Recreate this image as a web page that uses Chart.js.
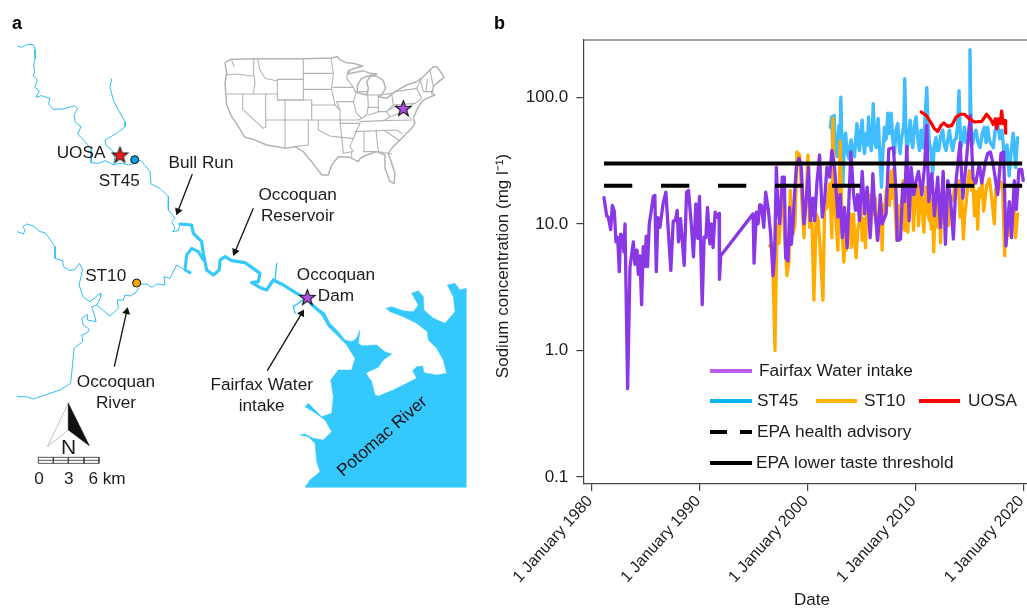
<!DOCTYPE html>
<html><head><meta charset="utf-8">
<style>
html,body{margin:0;padding:0;background:#fff;width:1027px;height:609px;overflow:hidden}
canvas{position:absolute;top:0;display:block}
#map{left:0}
#series{left:480px}
</style>
<script src="https://cdn.jsdelivr.net/npm/chart.js@4"></script>
</head><body>
<canvas id="map" width="480" height="500"></canvas>
<canvas id="series" width="570" height="609"></canvas>
<script>
// ---------- Panel b data: sodium concentration (mg/l) by decimal year ----------
const fairfaxYears=[1981.11,1981.36,1981.51,1981.73,1981.88,1982.07,1982.22,1982.38,1982.53,1982.65,1982.81,1982.96,1983.06,1983.30,1983.52,1983.83,1983.98,1984.17,1984.29,1984.44,1984.60,1984.75,1984.88,1985.03,1985.15,1985.31,1985.46,1985.68,1985.83,1985.96,1986.11,1986.30,1986.60,1986.85,1987.31,1987.53,1987.72,1987.90,1988.02,1988.21,1988.55,1988.77,1988.95,1989.23,1989.41,1989.63,1989.81,1989.97,1990.22,1990.40,1990.56,1990.71,1990.93,1991.08,1991.23,1991.42,1991.60,1991.79,1991.82,1991.94,1994.94,1995.03,1995.25,1995.40,1995.56,1995.71,1995.93,1996.11,1996.36,1996.57,1996.79,1996.94,1997.10,1997.25,1997.41,1997.65,1997.84,1997.96,1998.18,1998.33,1998.49,1998.64,1998.79,1998.95,1999.20,1999.41,1999.66,1999.88,2000.09,2000.25,2000.49,2000.65,2000.86,2001.11,2001.36,2001.57,2001.79,2002.04,2002.25,2002.50,2002.81,2003.02,2003.21,2003.42,2003.67,2003.83,2004.01,2004.26,2004.44,2004.63,2004.81,2005.06,2005.28,2005.52,2005.80,2006.05,2006.23,2006.51,2006.73,2006.91,2007.28,2007.53,2007.96,2008.21,2008.31,2008.62,2008.83,2008.99,2009.20,2009.42,2009.60,2009.85,2010.07,2010.28,2010.59,2010.84,2011.05,2011.24,2011.52,2011.76,2012.07,2012.32,2012.57,2012.78,2013.00,2013.25,2013.52,2013.77,2014.14,2014.39,2014.70,2015.10,2015.34,2015.59,2015.93,2016.15,2016.46,2016.70,2016.95,2017.20,2017.63,2017.94,2018.18,2018.40,2018.71,2018.92,2019.17,2019.36,2019.60,2019.85,2020.00];
const fairfaxValues=[16.1,11.6,11.3,9,14,12.6,7.2,7.8,4.2,8.3,8,6,10,0.5,4.55,7.2,4.8,6.2,4,5.6,2.3,6.6,4.6,8,4.6,10,12.1,16.5,16.8,4.2,11.2,9.4,14.6,17.8,4.3,10.5,10.6,12.8,7.2,11,4.7,17.8,18.4,9.4,5.5,14.4,7.7,16.5,2.3,7.9,7.8,13.5,6.95,10,6.5,12.4,11.3,12.1,3.65,5.6,12,4.9,12.4,10,14.2,14,9.4,17.8,12.8,8.3,3.9,5.8,28,13,10,23.4,23.4,5.4,5.1,13.5,6.9,10,17.3,28,33,28,10,16,28,10.6,16,10.6,21,35,11.3,15.3,28,23.4,38,28,11.3,17,7.8,13.5,6.5,15.3,37,17,12.8,17,10.6,26,12,19.5,7.8,25,12.8,7.4,17,10,12,39,40,17,7.4,7.6,20.7,15,41,10.6,28,17,22,26,17,28,60,15,25,11.6,23.4,9.4,26,6.9,22,16,7.6,22,44,16,30,72,23,21,30,21,30,36,37,30,17,36,37,6.7,15,7.8,22,13,27,27,22];

const st45Years=[2002.10,2002.22,2002.35,2002.45,2002.58,2002.75,2002.90,2003.00,2003.08,2003.27,2003.40,2003.52,2003.68,2003.83,2003.95,2004.04,2004.20,2004.35,2004.47,2004.57,2004.70,2004.81,2004.95,2005.06,2005.17,2005.28,2005.45,2005.55,2005.65,2005.78,2005.90,2006.00,2006.08,2006.22,2006.36,2006.45,2006.54,2006.68,2006.85,2007.00,2007.13,2007.22,2007.30,2007.44,2007.55,2007.64,2007.75,2007.90,2008.06,2008.20,2008.36,2008.47,2008.58,2008.70,2008.80,2008.92,2009.01,2009.10,2009.20,2009.35,2009.51,2009.62,2009.75,2009.90,2010.06,2010.20,2010.37,2010.52,2010.68,2010.85,2011.05,2011.18,2011.30,2011.45,2011.60,2011.75,2011.91,2012.03,2012.16,2012.35,2012.53,2012.68,2012.84,2013.00,2013.15,2013.30,2013.46,2013.62,2013.77,2013.92,2014.04,2014.13,2014.23,2014.38,2014.54,2014.70,2014.85,2015.00,2015.06,2015.15,2015.31,2015.46,2015.62,2015.80,2015.99,2016.20,2016.39,2016.55,2016.70,2016.85,2017.01,2017.22,2017.40,2017.62,2017.82,2018.02,2018.18,2018.33,2018.50,2018.70,2018.88,2019.07,2019.30,2019.47];
const st45Values=[58,70,36,72,40,34,60,44,100,21,44,52,36,33,42,46,36,34,48,62,42,38,56,66,44,36,52,42,70,44,38,50,89,46,40,56,68,38,19.5,40,58,46,48,75,52,60,75,46,36,55,62,44,36,47,52,60,140,60,36,47,66,46,40,60,70,48,38,55,40,60,119,60,43,38,25,42,48,38,38,50,55,42,38,46,55,44,38,46,47,60,113,60,40,46,58,44,48,60,238,60,43,50,55,44,40,52,58,44,58,46,43,40,55,62,47,55,40,30,42,24,38,52,28,48];

const st10Readings=[[1996.48,6.7],[1996.73,7],[1996.97,1],[1997.16,10],[1997.34,7],[1997.50,12.8],[1997.71,16.3],[1997.87,7.8],[1998.08,3.9],[1998.27,5.1],[1998.39,18.4],[1998.64,8.3],[1998.83,10],[1999.01,37],[1999.26,35],[1999.47,15.3],[1999.66,7.8],[1999.88,17.3],[2000.03,35],[2000.18,9.4],[2000.40,10.6],[2000.58,2.5],[2000.80,12],[2000.99,10.6],[2001.17,6.2],[2001.42,2.5],[2001.57,12.8],[2001.79,13.5],[2002.04,20.7],[2002.25,7.8],[2002.34,68],[2002.50,15.3],[2002.81,6.2],[2003.02,45],
[2003.21,8.6],[2003.36,5],[2003.47,9],[2003.58,6.2],[2003.70,10],[2003.83,8.3],[2003.94,12],[2004.04,6.5],[2004.15,9],[2004.26,12],[2004.38,7],[2004.50,5.4],[2004.65,9],[2004.81,10.6],[2004.93,14],[2005.06,7.4],[2005.22,11],[2005.37,6.5],[2005.48,13],[2005.59,11.3],[2005.71,17],[2005.83,8.3],[2005.97,14],[2006.11,12],[2006.28,16],[2006.45,7.4],[2006.56,12],[2006.67,10.6],[2006.79,15],[2006.91,6.2],[2007.02,14],[2007.13,12],[2007.28,18],[2007.44,20.7],[2007.60,14],[2007.75,26],[2007.86,16],[2007.96,27],[2008.12,13],[2008.27,7.4],[2008.40,14],[2008.52,7.4],[2008.63,12],[2008.74,15.3],[2008.86,22],[2008.99,8.9],[2009.14,18],[2009.29,8.6],[2009.41,14],[2009.54,15.3],[2009.68,22],[2009.82,8.9],[2009.95,16],[2010.07,13.5],[2010.18,20],[2010.28,9.7],[2010.40,14],[2010.53,18.4],[2010.66,12],[2010.78,8.6],[2010.88,15],[2010.99,19.5],[2011.15,12],[2011.30,10.6],[2011.38,16],[2011.46,9.1],[2011.58,14],[2011.70,6],[2011.83,15.3],[2011.95,19],[2012.07,9.4],[2012.20,14],[2012.32,7.1],[2012.43,12],[2012.54,20.7],[2012.69,14],[2012.84,11.6],[2012.95,18],[2013.06,9.7],[2013.26,16],[2013.46,15.3],[2013.66,20],[2013.86,17.3],[2014.00,22],[2014.14,11.3],[2014.30,16],[2014.45,7.6],[2014.58,12],[2014.70,14.4],[2014.85,20],[2015.00,26.4],[2015.22,18.4],[2015.35,22],[2015.47,11.6],[2015.62,18],[2015.78,9.1],[2015.90,19],[2016.02,16.3],[2016.18,21],[2016.33,12.6],[2016.60,20],[2016.86,22.7],[2017.10,15.3],[2017.32,10],[2017.45,19],[2017.57,17.3],[2017.75,20],[2017.94,21.4],[2018.10,18],[2018.28,5.6],[2018.42,12],[2018.55,8],[2018.70,13],[2018.86,8],[2019.00,14],[2019.11,15.3],[2019.29,7.8],[2019.48,12]];

const uosaYears=[2010.53,2010.99,2011.39,2011.76,2012.07,2012.38,2012.63,2013.00,2013.37,2013.77,2014.17,2014.54,2015.00,2015.47,2016.15,2016.61,2017.01,2017.23,2017.41,2017.54,2017.69,2017.87,2018.00,2018.12,2018.31,2018.37];
const uosaValues=[76.6,72,64,56.5,53.8,60,62.7,59,60,69.7,73.5,73.5,67.7,63.8,64.5,73.5,66.5,61,67.7,56.5,67.7,62,78,62,65.6,52];

const thresholdYears=[1981.11,2019.9];
const tasteThreshold=[30,30];
const healthAdvisory=[20,20];

const xTickYears=[1980,1990,2000,2010,2020];
const yTickValues=[0.1,1,10,100];
const seriesNames=['Fairfax Water intake','ST45','ST10','UOSA','EPA health advisory','EPA lower taste threshold'];

// ---------- Panel a data: traced map outlines, in map grid units ----------
const riverNorth=[[52,138],[65,142],[80,134],[100,134],[106,150],[105,175],[101,195],[104,215],[100,228],[112,240],[104,262],[118,272],[108,292],[125,287],[150,296],[146,312],[160,328],[190,327],[225,317],[233,325],[222,345],[226,367],[243,380],[233,402],[255,425],[275,450],[273,488],[295,490],[316,482],[340,494],[365,490],[385,495],[405,490],[420,480],[435,497],[450,515],[453,552],[480,565],[505,590],[505,630],[525,655],[515,665],[525,685],[518,695],[535,692],[540,672]];
const riverBranch=[[335,236],[330,262],[340,300],[355,330],[375,365],[375,380],[350,400],[315,420],[318,435],[340,455],[345,480],[340,494]];
const occoquanWest=[[52,695],[70,702],[75,690],[68,680],[80,672],[100,678],[120,695],[135,698],[150,718],[165,740],[165,775],[188,782],[190,800],[210,812],[225,808],[238,790],[248,808],[237,855],[250,892],[270,905],[300,880],[302,892],[290,915],[310,932],[330,948],[355,925],[352,900],[370,900],[375,885],[392,888],[410,875],[415,865]];
const occoquanSouth=[[290,915],[275,920],[285,950],[288,965],[262,960],[262,943],[245,955],[250,975],[268,988],[262,998],[245,1005],[248,1025],[222,1045],[218,1090],[212,1150],[180,1170],[100,1197],[80,1190],[52,1190]];
const occoquanEast=[[410,852],[440,852],[455,862],[470,852],[495,855],[492,830],[510,835],[530,795],[555,810]];
const reservoirMain=[[540,672],[575,675],[580,700],[605,725],[610,760],[620,810],[640,825],[658,810],[660,780],[675,770],[695,782],[735,788],[752,800],[780,820],[775,845],[755,848],[785,865],[800,870],[820,840],[850,855],[890,880],[920,895]];
const reservoirArm=[[610,780],[595,755],[575,745],[560,765],[555,810],[570,818]];
const reservoirSpurs=[[[825,840],[830,790]],[[910,898],[895,910],[880,920],[885,940]]];
const potomac=[[920,895],[955,925],[975,940],[990,970],[1015,995],[1035,1020],[1055,1025],[1070,1015],[1080,990],[1075,1030],[1085,1037],[1130,1035],[1155,1055],[1175,1062],[1150,1080],[1135,1102],[1105,1115],[1098,1120],[1115,1145],[1125,1185],[1135,1188],[1180,1170],[1250,1135],[1238,1112],[1250,1100],[1268,1098],[1272,1118],[1310,1125],[1340,1120],[1330,1080],[1310,1045],[1285,1020],[1282,995],[1250,970],[1210,950],[1170,935],[1158,925],[1175,920],[1210,932],[1240,935],[1255,915],[1235,880],[1255,872],[1270,890],[1272,930],[1300,955],[1335,970],[1365,935],[1360,890],[1342,855],[1365,850],[1380,870],[1398,865],[1398,1462],[915,1462],[930,1440],[960,1415],[950,1385],[945,1330],[925,1310],[900,1305],[915,1302],[940,1315],[970,1320],[995,1295],[975,1260],[940,1235],[915,1220],[925,1210],[965,1250],[995,1240],[1000,1190],[992,1140],[1015,1110],[1035,1110],[1055,1110],[1065,1075],[1040,1035],[1010,1005],[985,980],[965,945],[930,915]];

const usOutline=[[15,38],[32,28],[45,28],[100,26],[250,26],[333,24],[353,20],[358,28],[378,38],[400,40],[428,48],[405,55],[390,60],[383,72],[400,68],[430,62],[450,70],[470,72],[445,78],[425,85],[412,105],[412,128],[440,135],[445,115],[440,95],[452,78],[470,78],[490,92],[497,115],[485,135],[475,140],[500,145],[525,125],[560,105],[590,95],[605,85],[630,60],[640,50],[650,50],[665,70],[672,82],[650,100],[640,110],[635,130],[645,135],[620,145],[605,155],[590,180],[580,205],[585,220],[575,235],[560,250],[540,270],[515,295],[505,310],[525,370],[522,400],[510,395],[495,355],[495,315],[470,305],[440,315],[420,325],[415,335],[390,322],[355,320],[335,345],[325,375],[305,375],[275,335],[250,305],[225,290],[195,295],[140,285],[100,268],[75,262],[55,230],[35,200],[20,165],[15,100],[20,70],[15,38]];
const usStates=[
[[35,30],[42,50]],[[18,75],[45,72],[100,78],[102,26]],[[102,78],[105,100],[100,132]],[[20,132],[172,132]],[[68,132],[68,178],[130,235],[137,232],[137,132]],
[[172,88],[250,88],[250,150],[172,150],[172,88]],[[113,26],[120,60],[135,85],[172,93]],[[250,26],[250,88]],[[172,150],[275,150],[275,210]],[[195,150],[195,295]],[[137,210],[360,210]],
[[265,210],[265,285],[225,290]],[[295,210],[295,240],[330,258],[365,262],[370,310],[395,305],[395,320]],[[360,210],[365,262]],[[275,165],[345,165],[360,180],[360,210]],[[250,118],[335,118],[345,165]],[[250,70],[338,70]],[[333,24],[340,70],[335,115]],
[[340,112],[400,112],[408,130],[400,155],[350,155],[360,180]],[[385,60],[380,85],[400,112]],[[405,125],[445,125]],[[400,155],[410,190],[425,205],[440,195],[445,170],[443,130]],[[360,210],[415,210],[425,205]],[[360,220],[420,220],[400,265],[390,290],[400,305]],[[365,262],[400,265]],
[[420,215],[490,212],[575,210]],[[405,245],[530,240],[545,250]],[[432,245],[432,305]],[[468,240],[475,305],[515,312]],[[432,305],[470,305]],[[490,240],[540,272]],[[443,135],[475,135],[475,185]],[[443,172],[475,172]],[[475,135],[515,130],[520,165],[500,185],[475,185],[445,195]],[[500,185],[510,200],[490,212]],
[[525,125],[590,115],[605,145],[585,160],[520,165]],[[590,115],[605,85]],[[500,185],[530,165],[550,185],[565,170],[585,160]],[[510,200],[550,185],[572,205]],[[600,85],[610,125]],[[622,88],[618,125]],[[610,125],[640,125]],[[630,60],[640,110]]];

const stationStars=[[360,465,'#ff1a1a'],[1210,325,'#b04fe0'],[922,892,'#b04fe0']];
const stationDots=[[404,479,'#0f9fe0'],[410,849,'#f7a800']];
const arrowShafts=[[[577,522],[534,633]],[[760,625],[705,755]],[[343,1100],[380,935]],[[802,1112],[905,940]]];
const northLeft=[[205,1210],[142,1340],[205,1290],[205,1210]];
const northRight=[[205,1210],[268,1337],[205,1290],[205,1210]];
const scaleBarLines=[[[115,1372],[297,1372],[297,1390],[115,1390],[115,1372]],[[115,1381],[297,1381]],[[160,1372],[160,1390]],[[205,1372],[205,1390]],[[252,1372],[252,1390]]];

const mapLabelTexts=['UOSA','ST45','Bull Run','Occoquan','Reservoir','ST10','Occoquan','Dam','Occoquan','River','Fairfax Water','intake','N','0','3','6 km'];
const mapLabelSpots=[[243,460],[358,544],[603,490],[893,586],[893,648],[317,828],[1008,827],[1008,888],[348,1148],[348,1210],[785,1156],[785,1218],[206,1345],[117,1437],[206,1437],[321,1437]];

// ---------- Drawing ----------
const FONT='"Liberation Sans", Arial, sans-serif';
const INK='#1c1c1c';
const pts=a=>a.map(p=>({x:p[0],y:p[1]}));
const pairs=(xs,ys)=>xs.map((x,i)=>({x,y:ys[i]}));
function mapLine(a,color,width,extra){return Object.assign({data:pts(a),showLine:true,borderColor:color,borderWidth:width,pointRadius:0,tension:0,fill:false,borderJoinStyle:'round',borderCapStyle:'round'},extra||{});}
function starImage(color){
  const c=document.createElement('canvas');c.width=c.height=19;const g=c.getContext('2d');
  g.beginPath();
  for(let i=0;i<10;i++){const r=i%2?3.4:8.2,a=-Math.PI/2+i*Math.PI/5,x=9.5+r*Math.cos(a),y=10+r*Math.sin(a);i?g.lineTo(x,y):g.moveTo(x,y);}
  g.closePath();g.fillStyle=color;g.fill();g.strokeStyle='#111';g.lineWidth=1.1;g.lineJoin='miter';g.stroke();return c;
}
const shift=(a,dx,dy)=>a.map(p=>[p[0]+dx,p[1]+dy]);
const RIVER='#2fbdf0', WATER='#35c8fd', STATE='#b4b4b4';
const mapSets=[];
stationStars.forEach(s=>mapSets.push({data:[{x:s[0],y:s[1]}],pointStyle:starImage(s[2]),pointRadius:8,showLine:false}));
stationDots.forEach(s=>mapSets.push({data:[{x:s[0],y:s[1]}],pointStyle:'circle',pointRadius:4,borderWidth:1,borderColor:'#111',backgroundColor:s[2],showLine:false}));
arrowShafts.forEach(s=>{
  const dx=s[1][0]-s[0][0],dy=s[1][1]-s[0][1];
  mapSets.push({data:pts(s),showLine:true,borderColor:'#111',borderWidth:1.3,pointStyle:'triangle',pointRadius:[0,4.6],pointRotation:Math.atan2(dx,-dy)*180/Math.PI,pointBackgroundColor:'#111',pointBorderColor:'#111',pointBorderWidth:0});
});
mapSets.push(mapLine(northRight,'#111',0.6,{fill:'shape',backgroundColor:'#111'}));
mapSets.push(mapLine(northLeft,'#bdbdbd',0.9));
scaleBarLines.forEach(s=>mapSets.push(mapLine(s,'#444',0.9)));
usStates.forEach(s=>mapSets.push(mapLine(shift(s,660,150),STATE,1.1)));
mapSets.push(mapLine(shift(usOutline,660,150),STATE,1.5));
mapSets.push(mapLine(potomac,WATER,0.5,{fill:'shape',backgroundColor:WATER}));
mapSets.push(mapLine(reservoirMain,WATER,3.2));
mapSets.push(mapLine(reservoirArm,WATER,3));
reservoirSpurs.forEach(s=>mapSets.push(mapLine(s,WATER,1.4)));
[riverNorth,riverBranch,occoquanWest,occoquanSouth,occoquanEast].forEach(s=>mapSets.push(mapLine(s,RIVER,1)));

const mapText={id:'mapText',afterDraw(chart){
  const c=chart.ctx,x=chart.scales.x,y=chart.scales.y;
  c.save();c.fillStyle=INK;c.textBaseline='middle';c.textAlign='center';
  mapLabelTexts.forEach((t,i)=>{
    c.font=(t==='N'?'21px ':'17.2px ')+FONT;
    c.fillText(t,x.getPixelForValue(mapLabelSpots[i][0]),y.getPixelForValue(mapLabelSpots[i][1]));
  });
  c.save();c.translate(x.getPixelForValue(1147),y.getPixelForValue(1310));c.rotate(-41*Math.PI/180);c.font='17.2px '+FONT;c.fillStyle='#111';c.fillText('Potomac River',0,0);c.restore();
  c.textAlign='left';c.font='bold 18px '+FONT;c.fillStyle='#000';c.fillText('a',12,24);
  c.restore();
}};
new Chart(document.getElementById('map'),{type:'scatter',data:{datasets:mapSets},plugins:[mapText],options:{
  responsive:false,animation:false,events:[],layout:{padding:0,autoPadding:false},
  plugins:{legend:{display:false},tooltip:{enabled:false}},
  scales:{x:{type:'linear',min:0,max:1440,display:false},y:{type:'linear',min:0,max:1500,reverse:true,display:false}}
}});

const PURPLE='#8a38e6',BLUE='#40bdff',ORANGE='#ffab00',RED='#ff0000',BLACK='#000';
const dataLine=(data,color,w,extra)=>Object.assign({data,borderColor:color,borderWidth:w,pointRadius:0,tension:0,fill:false,showLine:true,borderJoinStyle:'round',borderCapStyle:'round'},extra||{});
const seriesText={id:'seriesText',afterDraw(chart){
  const c=chart.ctx,a=chart.chartArea;
  c.save();
  c.strokeStyle='#444';c.lineWidth=1.2;c.beginPath();c.moveTo(a.left,a.top);c.lineTo(chart.width,a.top);c.stroke();
  c.fillStyle='#000';c.font='bold 18px '+FONT;c.textBaseline='middle';c.fillText('b',14,24);
  const rows=[[230,272,371,'#bf5cf0',[],279,seriesNames[0]],[230,272,401,'#08b4f4',[],277,seriesNames[1]],[336,377,401,'#ffb400',[],384,seriesNames[2]],[439,480,401,'#ff0000',[],488,seriesNames[3]],[230,272,432,'#000',[17,13],277,seriesNames[4]],[230,272,463,'#000',[],276,seriesNames[5]]];
  rows.forEach(r=>{
    c.beginPath();c.strokeStyle=r[3];c.lineWidth=4;c.setLineDash(r[4]);c.moveTo(r[0],r[2]);c.lineTo(r[1],r[2]);c.stroke();
    c.setLineDash([]);c.fillStyle=INK;c.font='17.3px '+FONT;c.textAlign='left';c.fillText(r[6],r[5],r[2]);
  });
  c.save();c.translate(23,266);c.rotate(-Math.PI/2);c.textAlign='center';c.fillStyle=INK;c.font='17px '+FONT;c.fillText('Sodium concentration (mg l\u207B\u00B9)',0,0);c.restore();
  c.restore();
}};
new Chart(document.getElementById('series'),{type:'scatter',
  data:{datasets:[
    dataLine(pairs(thresholdYears,tasteThreshold),BLACK,4,{borderCapStyle:'butt',label:seriesNames[5]}),
    dataLine(pairs(thresholdYears,healthAdvisory),BLACK,4,{borderCapStyle:'butt',borderDash:[28.3,28.7],label:seriesNames[4]}),
    dataLine(pairs(uosaYears,uosaValues),RED,3.2,{label:seriesNames[3]}),
    dataLine(pairs(fairfaxYears,fairfaxValues),PURPLE,3.3,{label:seriesNames[0]}),
    dataLine(st10Readings.map(r=>({x:r[0],y:r[1]})),ORANGE,3.3,{label:seriesNames[2]}),
    dataLine(pairs(st45Years,st45Values),BLUE,3.4,{label:seriesNames[1]})
  ]},
  plugins:[seriesText],
  options:{responsive:false,animation:false,events:[],layout:{padding:{top:40,right:9.3,left:0,bottom:0}},
    plugins:{legend:{display:false},tooltip:{enabled:false}},
    scales:{
      x:{type:'linear',min:1979.19,max:2021.62,
        afterFit(s){s.height=125;s.paddingRight=0;s.paddingLeft=0;},
        afterBuildTicks(s){s.ticks=xTickYears.map(value=>({value}));},
        grid:{drawOnChartArea:false,drawTicks:true,tickLength:7,color:'#444',lineWidth:1.2},
        border:{display:true,color:'#444',width:1.2},
        ticks:{autoSkip:false,maxRotation:48,minRotation:48,padding:1,labelOffset:-2,color:INK,font:{family:FONT,size:16},callback:v=>'1 January '+v},
        title:{display:true,text:'Date',color:INK,font:{family:FONT,size:17,lineHeight:1},padding:{top:0,bottom:0}}},
      y:{type:'logarithmic',min:0.0882,max:283.6,
        afterFit(s){s.width=103.3;s.paddingTop=0;s.paddingBottom=0;},
        afterBuildTicks(s){s.ticks=yTickValues.map(value=>({value}));},
        grid:{drawOnChartArea:false,drawTicks:true,tickLength:7,color:'#444',lineWidth:1.2},
        border:{display:true,color:'#444',width:1.2},
        ticks:{autoSkip:false,padding:8,color:INK,font:{family:FONT,size:17},callback:v=>Number(v).toFixed(1)}}
    }}
});
</script>
</body></html>
